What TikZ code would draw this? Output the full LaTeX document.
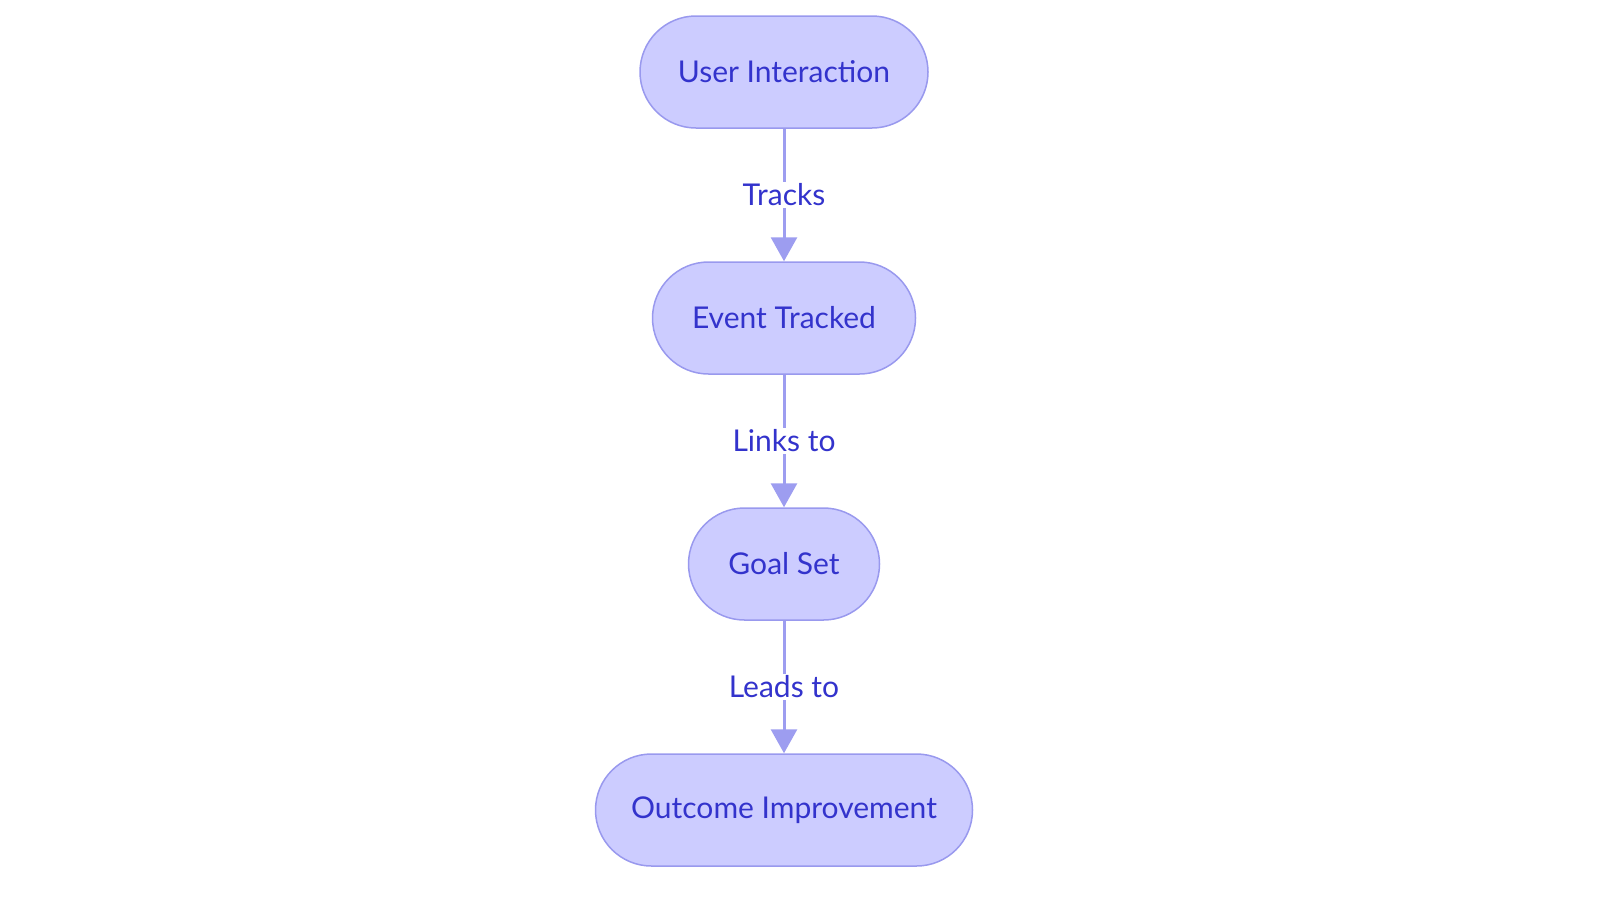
\documentclass[tikz,border=0pt]{standalone}
\usepackage{fontspec}
\setmainfont{Lato}
\usetikzlibrary{arrows.meta}
\definecolor{nfill}{HTML}{CCCCFF}
\definecolor{ndraw}{HTML}{9999EE}
\definecolor{ntext}{HTML}{3333CC}
\definecolor{edge}{HTML}{9D9DF0}
\begin{document}
\begin{tikzpicture}[x=1pt,y=-1pt,
  box/.style={draw=ndraw,fill=nfill,line width=1.5pt,rounded corners=56pt,minimum height=112pt,text=ntext,font=\fontsize{30}{34}\selectfont,inner sep=0pt},
  lab/.style={fill=white,text=ntext,font=\fontsize{30}{34}\selectfont,inner sep=2pt},
  conn/.style={draw=edge,line width=3pt,-{Triangle[width=26pt,length=24pt]}}]
\useasboundingbox (0,0) rectangle (1600,903);
\node[box,minimum width=288pt] (a) at (784,72) {User Interaction};
\node[box,minimum width=263pt] (b) at (784,318) {Event Tracked};
\node[box,minimum width=191pt] (c) at (784,564) {Goal Set};
\node[box,minimum width=377pt] (d) at (784,810) {Outcome Improvement};
\draw[conn] (a) -- node[lab]{Tracks} (b);
\draw[conn] (b) -- node[lab]{Links to} (c);
\draw[conn] (c) -- node[lab]{Leads to} (d);
\end{tikzpicture}
\end{document}
